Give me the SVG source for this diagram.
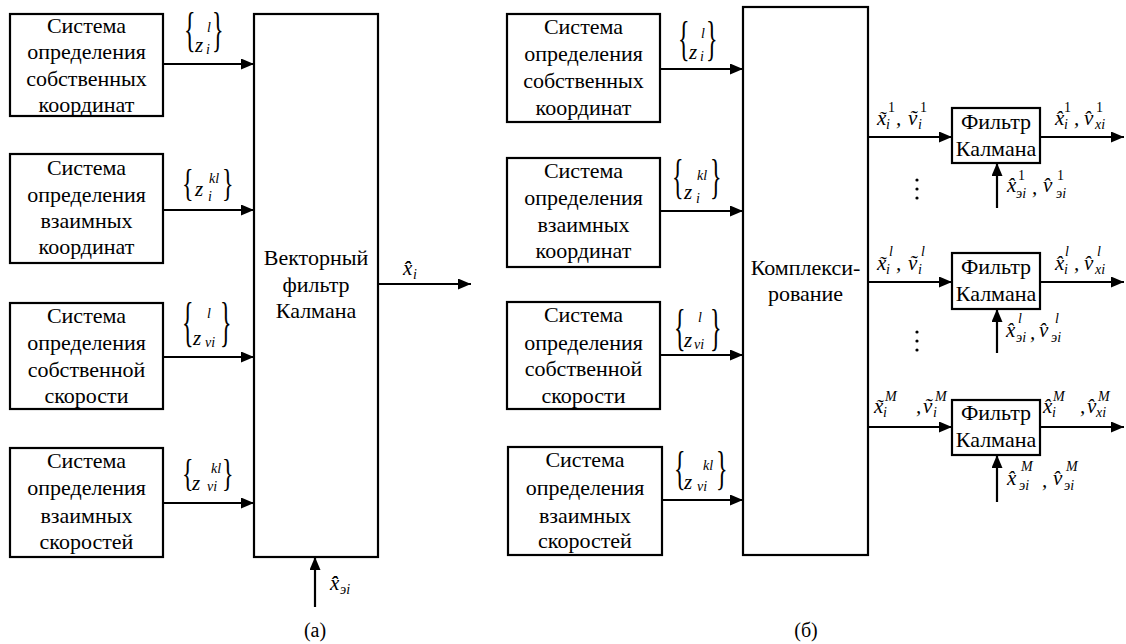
<svg xmlns="http://www.w3.org/2000/svg" width="1126" height="644" viewBox="0 0 1126 644" style="font-family:'Liberation Serif','Times New Roman',serif">
<defs>
<marker id="ah" markerUnits="userSpaceOnUse" markerWidth="13" markerHeight="11" refX="13" refY="5.5" orient="auto">
<path d="M0,0 L13,5.5 L0,11 z" fill="#000"/>
</marker>
</defs>
<rect width="1126" height="644" fill="#fff"/>

<g id="a-own-coord" font-size="22" text-anchor="middle">
<rect fill="#fff" stroke="#000" stroke-width="2.2" x="10" y="14" width="153" height="102"/>
<text x="86.5" y="33">Система</text>
<text x="86.5" y="59">определения</text>
<text x="86.5" y="86">собственных</text>
<text x="86.5" y="112">координат</text>
</g>
<g id="a-mut-coord" font-size="22" text-anchor="middle">
<rect fill="#fff" stroke="#000" stroke-width="2.2" x="10" y="154" width="153" height="109"/>
<text x="86.5" y="175">Система</text>
<text x="86.5" y="202">определения</text>
<text x="86.5" y="228">взаимных</text>
<text x="86.5" y="254">координат</text>
</g>
<g id="a-own-speed" font-size="22" text-anchor="middle">
<rect fill="#fff" stroke="#000" stroke-width="2.2" x="10" y="303" width="153" height="106"/>
<text x="86.5" y="323">Система</text>
<text x="86.5" y="350">определения</text>
<text x="86.5" y="377">собственной</text>
<text x="86.5" y="403">скорости</text>
</g>
<g id="a-mut-speed" font-size="22" text-anchor="middle">
<rect fill="#fff" stroke="#000" stroke-width="2.2" x="10" y="448" width="153" height="109"/>
<text x="86.5" y="468">Система</text>
<text x="86.5" y="495">определения</text>
<text x="86.5" y="523">взаимных</text>
<text x="86.5" y="549">скоростей</text>
</g>
<g id="a-vkf" font-size="22" text-anchor="middle">
<rect fill="#fff" stroke="#000" stroke-width="2.2" x="254" y="14" width="124" height="543"/>
<text x="316" y="265">Векторный</text>
<text x="316" y="292">фильтр</text>
<text x="316" y="318">Калмана</text>
</g>

<g id="b-own-coord" font-size="22" text-anchor="middle">
<rect fill="#fff" stroke="#000" stroke-width="2.2" x="507" y="14" width="153" height="108"/>
<text x="583.5" y="34">Система</text>
<text x="583.5" y="61">определения</text>
<text x="583.5" y="88">собственных</text>
<text x="583.5" y="115">координат</text>
</g>
<g id="b-mut-coord" font-size="22" text-anchor="middle">
<rect fill="#fff" stroke="#000" stroke-width="2.2" x="507" y="158" width="153" height="109"/>
<text x="583.5" y="178">Система</text>
<text x="583.5" y="205">определения</text>
<text x="583.5" y="232">взаимных</text>
<text x="583.5" y="258">координат</text>
</g>
<g id="b-own-speed" font-size="22" text-anchor="middle">
<rect fill="#fff" stroke="#000" stroke-width="2.2" x="507" y="302" width="153" height="107"/>
<text x="583.5" y="322">Система</text>
<text x="583.5" y="350">определения</text>
<text x="583.5" y="376">собственной</text>
<text x="583.5" y="403">скорости</text>
</g>
<g id="b-mut-speed" font-size="22" text-anchor="middle">
<rect fill="#fff" stroke="#000" stroke-width="2.2" x="508" y="447" width="154" height="108"/>
<text x="585" y="467">Система</text>
<text x="585" y="495">определения</text>
<text x="585" y="523">взаимных</text>
<text x="585" y="548">скоростей</text>
</g>
<g id="b-complex" font-size="22" text-anchor="middle">
<rect fill="#fff" stroke="#000" stroke-width="2.2" x="743" y="7" width="125" height="548"/>
<text x="805.5" y="275">Комплекси-</text>
<text x="805.5" y="301">рование</text>
</g>
<g id="b-kf1" font-size="22" text-anchor="middle">
<rect fill="#fff" stroke="#000" stroke-width="2.2" x="952" y="108" width="88" height="55"/>
<text x="996" y="129">Фильтр</text>
<text x="996" y="156">Калмана</text>
</g>
<g id="b-kfl" font-size="22" text-anchor="middle">
<rect fill="#fff" stroke="#000" stroke-width="2.2" x="952" y="253" width="88" height="56"/>
<text x="996" y="274">Фильтр</text>
<text x="996" y="301">Калмана</text>
</g>
<g id="b-kfM" font-size="22" text-anchor="middle">
<rect fill="#fff" stroke="#000" stroke-width="2.2" x="952" y="400" width="88" height="55"/>
<text x="996" y="420">Фильтр</text>
<text x="996" y="447">Калмана</text>
</g>

<g id="connectors" fill="none" stroke="#000" stroke-width="2.2">
<line x1="163" y1="64" x2="254" y2="64" marker-end="url(#ah)"/>
<line x1="163" y1="210" x2="254" y2="210" marker-end="url(#ah)"/>
<line x1="163" y1="357" x2="254" y2="357" marker-end="url(#ah)"/>
<line x1="163" y1="503" x2="254" y2="503" marker-end="url(#ah)"/>
<line x1="378" y1="284" x2="471" y2="284" marker-end="url(#ah)"/>
<line x1="315" y1="607" x2="315" y2="557" marker-end="url(#ah)"/>
<line x1="660" y1="69" x2="743" y2="69" marker-end="url(#ah)"/>
<line x1="660" y1="211" x2="743" y2="211" marker-end="url(#ah)"/>
<line x1="660" y1="355" x2="743" y2="355" marker-end="url(#ah)"/>
<line x1="662" y1="500" x2="743" y2="500" marker-end="url(#ah)"/>
<line x1="868" y1="137" x2="952" y2="137" marker-end="url(#ah)"/>
<line x1="868" y1="282" x2="952" y2="282" marker-end="url(#ah)"/>
<line x1="868" y1="427" x2="952" y2="427" marker-end="url(#ah)"/>
<line x1="1040" y1="137" x2="1124" y2="137" marker-end="url(#ah)"/>
<line x1="1040" y1="282" x2="1124" y2="282" marker-end="url(#ah)"/>
<line x1="1040" y1="427" x2="1124" y2="427" marker-end="url(#ah)"/>
<line x1="997" y1="208" x2="997" y2="163" marker-end="url(#ah)"/>
<line x1="997" y1="353" x2="997" y2="309" marker-end="url(#ah)"/>
<line x1="997" y1="502" x2="997" y2="455" marker-end="url(#ah)"/>
</g>

<g id="lbl-a" font-size="14" font-style="italic">
<text font-size="24" font-style="normal" transform="translate(184,46) scale(1,2)">{</text>
<text font-size="21" x="195" y="52">z</text>
<text x="207" y="32">l</text>
<text x="206" y="54">i</text>
<text font-size="24" font-style="normal" transform="translate(212,46) scale(1,2)">}</text>

<text font-size="24" font-style="normal" transform="translate(182,196) scale(1,1.6)">{</text>
<text font-size="21" x="195" y="196">z</text>
<text x="209" y="183">kl</text>
<text x="208" y="201">i</text>
<text font-size="24" font-style="normal" transform="translate(222,196) scale(1,1.6)">}</text>

<text font-size="24" font-style="normal" transform="translate(182,340) scale(1,2.25)">{</text>
<text font-size="21" x="193" y="345">z</text>
<text x="207" y="318">l</text>
<text x="205" y="347">vi</text>
<text font-size="24" font-style="normal" transform="translate(220,340) scale(1,2.25)">}</text>

<text font-size="24" font-style="normal" transform="translate(182,486) scale(1,1.6)">{</text>
<text font-size="21" x="192" y="490">z</text>
<text x="211" y="473">kl</text>
<text x="207" y="491">vi</text>
<text font-size="24" font-style="normal" transform="translate(222,486) scale(1,1.6)">}</text>

<text font-size="21" x="403" y="275">x̂̂</text>
<text x="413" y="279">i</text>
<text font-size="21" x="330" y="590">x̂̂</text>
<text x="340" y="594">эi</text>
<text font-size="20" font-style="normal" text-anchor="middle" x="315" y="637">(a)</text>
</g>

<g id="lbl-b" font-size="14" font-style="italic">
<text font-size="24" font-style="normal" transform="translate(678,55) scale(1,2)">{</text>
<text font-size="21" x="689" y="59">z</text>
<text x="701" y="38">l</text>
<text x="700" y="61">i</text>
<text font-size="24" font-style="normal" transform="translate(706,55) scale(1,2)">}</text>

<text font-size="24" font-style="normal" transform="translate(672,193) scale(1,2)">{</text>
<text font-size="21" x="684" y="199">z</text>
<text x="697" y="180">kl</text>
<text x="696" y="203">i</text>
<text font-size="24" font-style="normal" transform="translate(710,193) scale(1,2)">}</text>

<text font-size="24" font-style="normal" transform="translate(674,344) scale(1,2.1)">{</text>
<text font-size="21" x="684" y="347">z</text>
<text x="698" y="322">l</text>
<text x="694" y="349">vi</text>
<text font-size="24" font-style="normal" transform="translate(710,344) scale(1,2.1)">}</text>

<text font-size="24" font-style="normal" transform="translate(674,484) scale(1,1.9)">{</text>
<text font-size="21" x="684" y="489">z</text>
<text x="703" y="470">kl</text>
<text x="697" y="491">vi</text>
<text font-size="24" font-style="normal" transform="translate(716,484) scale(1,1.9)">}</text>

<text font-size="21" x="877" y="125">x̃</text>
<text font-style="normal" x="888" y="112">1</text>
<text x="886" y="129">i</text>
<text font-size="21" x="896" y="125">,</text>
<text font-size="21" x="908" y="125">ṽ</text>
<text font-style="normal" x="920" y="112">1</text>
<text x="918" y="129">i</text>
<text font-size="21" x="1055" y="125">x̂</text>
<text font-style="normal" x="1064" y="112">1</text>
<text x="1064" y="129">i</text>
<text font-size="21" x="1074" y="125">,</text>
<text font-size="21" x="1084" y="125">v̂</text>
<text font-style="normal" x="1096" y="112">1</text>
<text x="1095" y="129">xi</text>
<text font-size="21" x="1007" y="192">x̂</text>
<text font-style="normal" x="1018" y="180">1</text>
<text x="1016" y="198">эi</text>
<text font-size="21" x="1032" y="194">,</text>
<text font-size="21" x="1043" y="192">v̂</text>
<text font-style="normal" x="1057" y="180">1</text>
<text x="1056" y="198">эi</text>

<text font-size="21" x="877" y="270">x̃</text>
<text x="889" y="256">l</text>
<text x="886" y="274">i</text>
<text font-size="21" x="896" y="270">,</text>
<text font-size="21" x="908" y="270">ṽ</text>
<text x="921" y="256">l</text>
<text x="918" y="274">i</text>
<text font-size="21" x="1055" y="270">x̂</text>
<text x="1065" y="256">l</text>
<text x="1064" y="274">i</text>
<text font-size="21" x="1074" y="270">,</text>
<text font-size="21" x="1084" y="270">v̂</text>
<text x="1097" y="256">l</text>
<text x="1095" y="274">xi</text>
<text font-size="21" x="1006" y="337">x̂</text>
<text x="1018" y="323">l</text>
<text x="1016" y="342">эi</text>
<text font-size="21" x="1030" y="339">,</text>
<text font-size="21" x="1039" y="337">v̂</text>
<text x="1055" y="323">l</text>
<text x="1051" y="342">эi</text>

<text font-size="21" x="874" y="413">x̃</text>
<text x="885" y="401">M</text>
<text x="883" y="417">i</text>
<text font-size="21" x="916" y="413">,</text>
<text font-size="21" x="923" y="413">ṽ</text>
<text x="935" y="401">M</text>
<text x="933" y="417">i</text>
<text font-size="21" x="1043" y="413">x̂</text>
<text x="1053" y="401">M</text>
<text x="1052" y="417">i</text>
<text font-size="21" x="1080" y="413">,</text>
<text font-size="21" x="1087" y="413">v̂</text>
<text x="1098" y="401">M</text>
<text x="1096" y="417">xi</text>
<text font-size="21" x="1007" y="485">x̂</text>
<text x="1021" y="471">M</text>
<text x="1019" y="490">эi</text>
<text font-size="21" x="1042" y="487">,</text>
<text font-size="21" x="1053" y="485">v̂</text>
<text x="1066" y="471">M</text>
<text x="1064" y="490">эi</text>

<circle cx="917" cy="180" r="1.6"/><circle cx="917" cy="189" r="1.6"/><circle cx="917" cy="198" r="1.6"/>
<circle cx="917" cy="332" r="1.6"/><circle cx="917" cy="341" r="1.6"/><circle cx="917" cy="350" r="1.6"/>
<text font-size="20" font-style="normal" text-anchor="middle" x="806" y="637">(б)</text>
</g>
</svg>
